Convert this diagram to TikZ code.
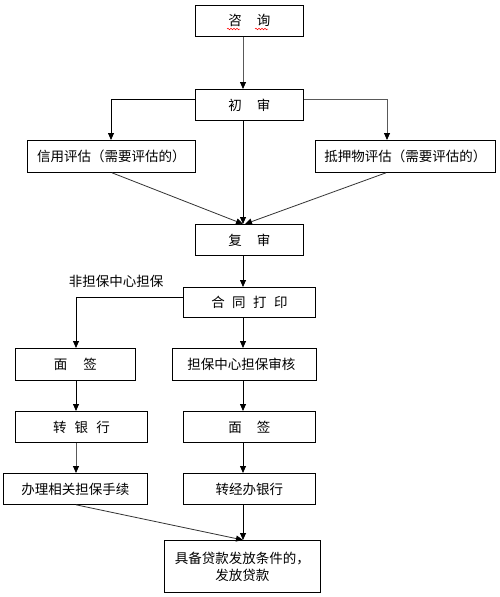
\documentclass[tikz,border=0pt]{standalone}
\usepackage{fontspec}
\setmainfont{Noto Sans CJK SC}
\usetikzlibrary{arrows.meta,decorations.pathmorphing}
\begin{document}
\begin{tikzpicture}[x=1pt,y=-1pt,
  box/.style={draw,line width=0.8pt,inner sep=0pt,anchor=north west,font=\fontsize{13.5}{17}\selectfont},
  arr/.style={-{Triangle[length=7pt,width=6pt,color=black]},line width=0.8pt},
  garr/.style={arr,draw=black!65}]
\useasboundingbox (0,0) rectangle (499,597);
\fill[white] (0,0) rectangle (499,597);
% boxes
\node[box,minimum width=108pt,minimum height=31pt] (zx) at (195,5) {咨\hspace{1.1em}询};
\node[box,minimum width=108pt,minimum height=31pt] (cs) at (195,89) {初\hspace{1.1em}审};
\node[box,minimum width=168pt,minimum height=32pt] (xy) at (27,140) {信用评估（需要评估的）};
\node[box,minimum width=180pt,minimum height=32pt] (dy) at (315,140) {抵押物评估（需要评估的）};
\node[box,minimum width=108pt,minimum height=31pt] (fs) at (195,224) {复\hspace{1.1em}审};
\node[box,minimum width=132pt,minimum height=30pt] (ht) at (183,287) {合\hspace{0.55em}同\hspace{0.55em}打\hspace{0.55em}印};
\node[font=\fontsize{13.5}{17}\selectfont,inner sep=0pt] (fdb) at (116,281) {非担保中心担保};
\node[box,minimum width=120pt,minimum height=32pt] (mq1) at (15,348) {面\hspace{1.2em}签};
\node[box,minimum width=144pt,minimum height=32pt,align=left,text width=134pt] (dbsh) at (172,348) {\hspace*{10pt}担保中心担保审核};
\node[box,minimum width=132pt,minimum height=31pt] (zyh) at (15,411) {转\hspace{0.6em}银\hspace{0.6em}行};
\node[box,minimum width=132pt,minimum height=31pt] (mq2) at (183,411) {面\hspace{1.1em}签};
\node[box,minimum width=144pt,minimum height=31pt] (bl) at (3,473) {办理相关担保手续};
\node[box,minimum width=132pt,minimum height=31pt] (zj) at (183,473) {转经办银行};
\node[box,minimum width=156pt,minimum height=52pt,align=center] (ff) at (164,540) {具备贷款发放条件的，\\发放贷款};
% red wavy spell marks
\draw[red,line width=0.5pt,decorate,decoration={snake,amplitude=0.8pt,segment length=3pt}] (227,29) -- (240,29);
\draw[red,line width=0.5pt,decorate,decoration={snake,amplitude=0.8pt,segment length=3pt}] (255,29) -- (268,29);
% connectors
\draw[garr] (zx.south -| 243,0) -- (cs.north -| 243,0);
\draw[arr] (cs.west |- 0,99) -| (xy.north -| 111,0);
\draw[garr] (cs.east |- 0,99) -| (dy.north -| 387,0);
\draw[arr] (cs.south -| 243,0) -- (fs.north -| 243,0);
\draw[arr,draw=black!80] (xy.south -| 112,0) -- (fs.north -| 243,0);
\draw[arr,draw=black!80] (dy.south -| 386,0) -- (fs.north -| 245,0);
\draw[arr] (fs.south -| 243,0) -- (ht.north -| 243,0);
\draw[arr] (ht.west |- 0,297) -| (mq1.north -| 76,0);
\draw[arr] (ht.south -| 243,0) -- (dbsh.north -| 243,0);
\draw[arr] (mq1.south -| 76,0) -- (zyh.north -| 76,0);
\draw[arr] (dbsh.south -| 243,0) -- (mq2.north -| 243,0);
\draw[garr] (zyh.south -| 76,0) -- (bl.north -| 76,0);
\draw[arr] (mq2.south -| 243,0) -- (zj.north -| 243,0);
\draw[arr,draw=black!80] (bl.south -| 76,0) -- (ff.north -| 243,0);
\draw[arr] (zj.south -| 243,0) -- (ff.north -| 243,0);
\end{tikzpicture}
\end{document}
